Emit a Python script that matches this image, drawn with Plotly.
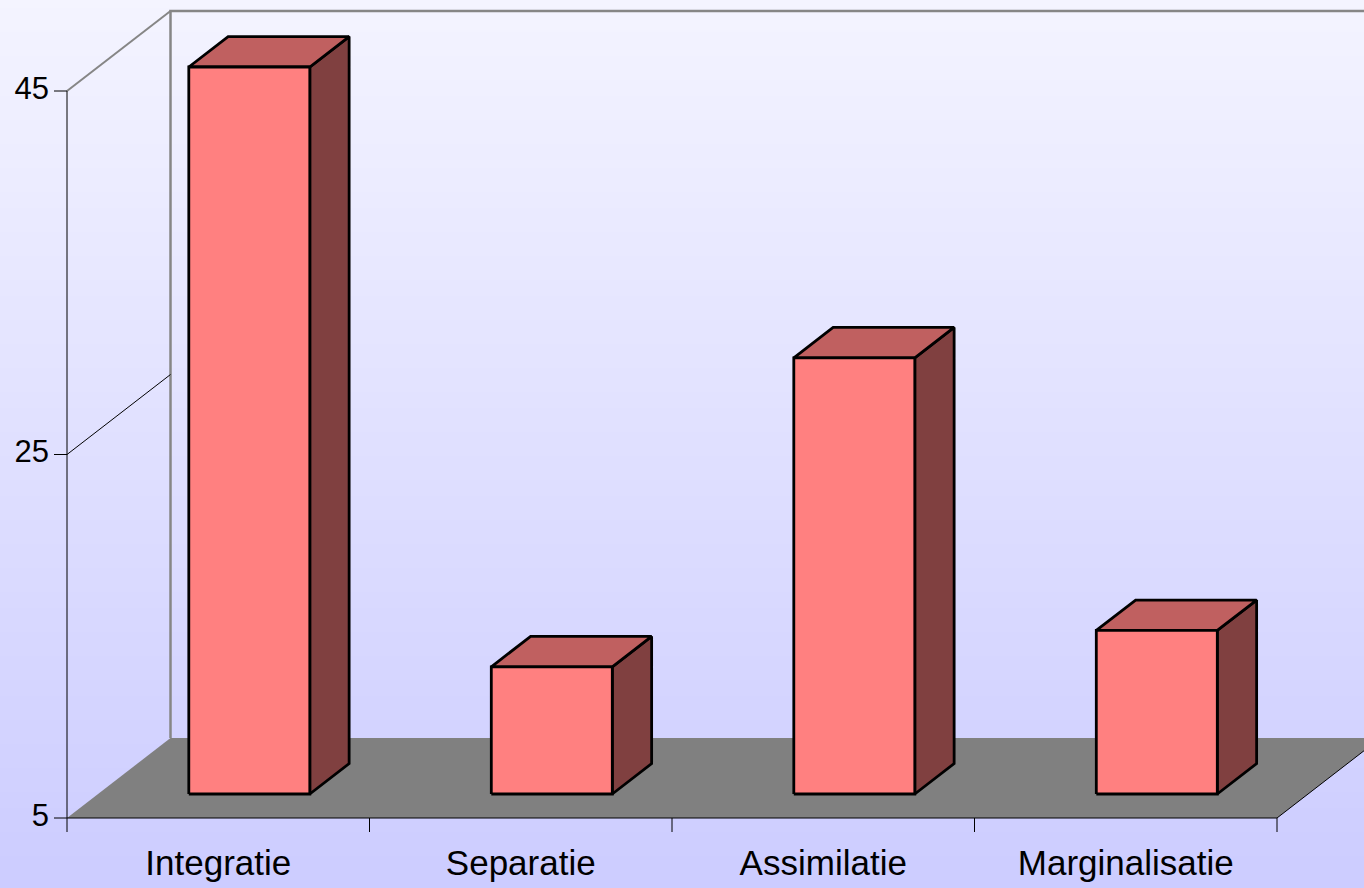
import plotly.graph_objects as go

# ---- data ----
categories = ["Integratie", "Separatie", "Assimilatie", "Marginalisatie"]
values = [45, 12, 29, 14]
ytick_vals = [5, 25, 45]
y_min, y_max = 5, 45

# ---- projection / layout constants ----
W_PX, H_PX = 1364, 888
X0_PX = 67.0            # pixel of category boundary 0
CAT_PX = 302.5          # pixels per category
Y0_PX = 818.0           # pixel of y_min
UNIT_PX = (818.0 - 91.0) / (y_max - y_min)
DX = 103.5 / CAT_PX     # depth offset in category units
DY = 80.0 / UNIT_PX     # depth offset in value units
BAR_W = 0.4
D0, D1 = 0.30, 0.68

x_range = [-X0_PX / CAT_PX, (W_PX - X0_PX) / CAT_PX]
y_range = [y_min - (H_PX - Y0_PX) / UNIT_PX, y_min + Y0_PX / UNIT_PX]
n = len(categories)


def P(x, v, d):
    return x + d * DX, v + d * DY


def poly(pts):
    xs = [p[0] for p in pts] + [pts[0][0]]
    ys = [p[1] for p in pts] + [pts[0][1]]
    return xs, ys


fig = go.Figure()

# back wall lines (gray)
bx = [P(0, y_min, 1)[0], P(0, y_max, 1)[0], P(n + 1, y_max, 1)[0]]
by = [P(0, y_min, 1)[1], P(0, y_max, 1)[1], P(n + 1, y_max, 1)[1]]
fig.add_trace(go.Scatter(x=bx, y=by, mode="lines", line=dict(color="#868686", width=2.5),
                         hoverinfo="skip", showlegend=False))
# left wall top edge
lx = [0, P(0, y_max, 1)[0]]
ly = [y_max, P(0, y_max, 1)[1]]
fig.add_trace(go.Scatter(x=lx, y=ly, mode="lines", line=dict(color="#868686", width=2),
                         hoverinfo="skip", showlegend=False))
# left wall gridline(s)
gx, gy = [], []
for t in ytick_vals[1:-1]:
    gx += [0, P(0, t, 1)[0], None]
    gy += [t, P(0, t, 1)[1], None]
fig.add_trace(go.Scatter(x=gx, y=gy, mode="lines", line=dict(color="black", width=1),
                         hoverinfo="skip", showlegend=False))

# floor
fx, fy = poly([P(0, y_min, 0), P(n, y_min, 0), P(n, y_min, 1), P(0, y_min, 1)])
fig.add_trace(go.Scatter(x=fx, y=fy, mode="lines", fill="toself", fillcolor="#808080",
                         line=dict(color="#808080", width=0), hoverinfo="skip", showlegend=False))
# floor right edge and front edge
fig.add_trace(go.Scatter(x=[0, n, P(n, y_min, 1)[0]], y=[y_min, y_min, P(n, y_min, 1)[1]],
                         mode="lines", line=dict(color="black", width=1),
                         hoverinfo="skip", showlegend=False))

# bars
for i, v in enumerate(values):
    c = i + 0.5
    xl, xr = c - BAR_W / 2, c + BAR_W / 2
    faces = [
        ([P(xr, y_min, D0), P(xr, y_min, D1), P(xr, v, D1), P(xr, v, D0)], "#804040"),
        ([P(xl, v, D0), P(xr, v, D0), P(xr, v, D1), P(xl, v, D1)], "#c06060"),
        ([P(xl, y_min, D0), P(xr, y_min, D0), P(xr, v, D0), P(xl, v, D0)], "#ff8080"),
    ]
    for pts, col in faces:
        xs, ys = poly(pts)
        fig.add_trace(go.Scatter(x=xs, y=ys, mode="lines", fill="toself", fillcolor=col,
                                 line=dict(color="black", width=2.8), hoverinfo="skip",
                                 showlegend=False))

# front y axis line + ticks
tick_len_x = 13 / CAT_PX
tick_len_y = 14 / UNIT_PX
ax_x = [0, 0, None]
ax_y = [y_max, y_min - tick_len_y, None]
for t in ytick_vals:
    ax_x += [-tick_len_x, 0, None]
    ax_y += [t, t, None]
for k in range(1, n + 1):
    ax_x += [k, k, None]
    ax_y += [y_min, y_min - tick_len_y, None]
fig.add_trace(go.Scatter(x=ax_x, y=ax_y, mode="lines", line=dict(color="black", width=1),
                         hoverinfo="skip", showlegend=False))

# tick labels
fig.add_trace(go.Scatter(x=[-tick_len_x - 5 / CAT_PX] * len(ytick_vals), y=ytick_vals,
                         mode="text", text=[str(t) for t in ytick_vals],
                         textposition="middle left",
                         textfont=dict(family="Liberation Sans, Arial", size=31, color="black"),
                         hoverinfo="skip", showlegend=False))
fig.add_trace(go.Scatter(x=[i + 0.5 for i in range(n)], y=[y_min - 48 / UNIT_PX] * n,
                         mode="text", text=categories, textposition="middle center",
                         textfont=dict(family="Liberation Sans, Arial", size=35, color="black"),
                         hoverinfo="skip", showlegend=False))

# background gradient
shapes = []
bands = 111
top_c = (244, 244, 255)
bot_c = (204, 204, 255)
for b in range(bands):
    f = (b + 0.5) / bands
    r = round(top_c[0] + (bot_c[0] - top_c[0]) * f)
    g = round(top_c[1] + (bot_c[1] - top_c[1]) * f)
    bl = round(top_c[2] + (bot_c[2] - top_c[2]) * f)
    shapes.append(dict(type="rect", xref="paper", yref="paper", x0=0, x1=1,
                       y0=1 - (b + 1) / bands - 0.001, y1=1 - b / bands,
                       fillcolor=f"rgb({r},{g},{bl})", line=dict(width=0), layer="below"))

fig.update_layout(
    width=W_PX, height=H_PX, autosize=False,
    margin=dict(l=0, r=0, t=0, b=0),
    paper_bgcolor="#e0e0ff", plot_bgcolor="rgba(0,0,0,0)",
    xaxis=dict(range=x_range, visible=False, fixedrange=True),
    yaxis=dict(range=y_range, visible=False, fixedrange=True),
    shapes=shapes, showlegend=False,
)

fig.write_html(
    "out.html",
    config={"displayModeBar": False},
    post_script="document.body.style.margin='0';document.body.style.overflow='hidden';",
)
